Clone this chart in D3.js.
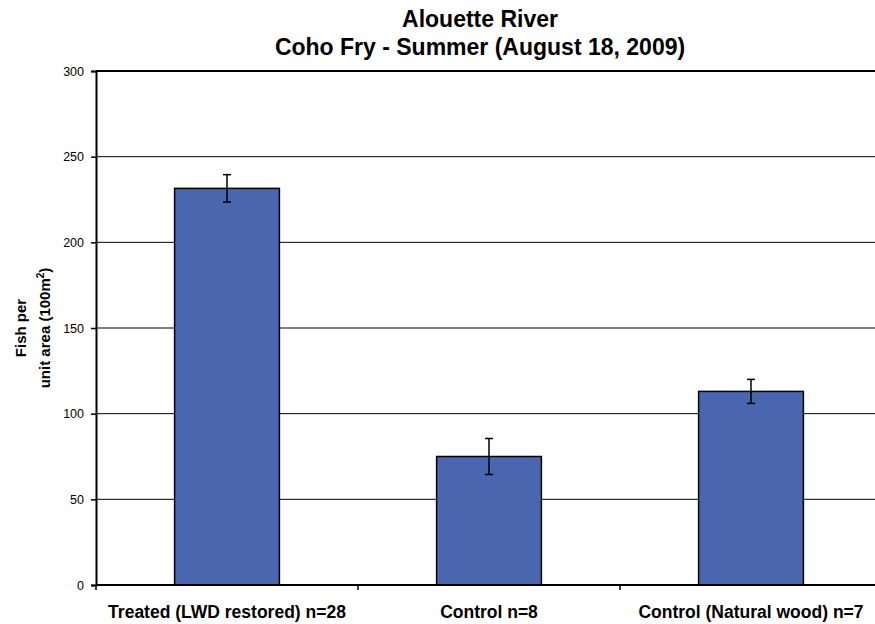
<!DOCTYPE html>
<html>
<head>
<meta charset="utf-8">
<script src="https://cdn.jsdelivr.net/npm/d3@7"></script>
<style>
  body { margin: 0; background: #fff; }
  text { font-family: "Liberation Sans", Arial, sans-serif; }
</style>
</head>
<body>
<div class="vis-barchart"></div>
<script>
// data
const categories = ["Treated (LWD restored) n=28", "Control n=8", "Control (Natural wood) n=7"];
const values = [231.5, 75, 113];
const errors = [8, 10.5, 7];
const yTicks = [0, 50, 100, 150, 200, 250, 300];

const width = 875;
const height = 624;
const margin = { top: 71, right: -7, bottom: 39, left: 96 };

const svg = d3.select('.vis-barchart').append('svg')
    .attr('width', width)
    .attr('height', height);

const x = d3.scaleBand()
    .domain(categories)
    .range([margin.left, width - margin.right])
    .paddingInner(0.6)
    .paddingOuter(0.3);

const y = d3.scaleLinear()
    .domain([0, 300])
    .range([height - margin.bottom, margin.top]);

// title
svg.append('text')
    .attr('x', 480).attr('y', 27)
    .attr('text-anchor', 'middle')
    .style('font-size', '23px').style('font-weight', 'bold')
    .text('Alouette River');
svg.append('text')
    .attr('x', 480).attr('y', 55)
    .attr('text-anchor', 'middle')
    .style('font-size', '23px').style('font-weight', 'bold')
    .text('Coho Fry - Summer (August 18, 2009)');

// gridlines
svg.append('g')
    .selectAll('line')
    .data(yTicks.filter(d => d > 0))
    .join('line')
    .attr('x1', margin.left).attr('x2', width - margin.right)
    .attr('y1', d => y(d)).attr('y2', d => y(d))
    .attr('stroke', '#000')
    .attr('stroke-width', d => d === 300 ? 2 : 1);

// bars
svg.append('g')
    .selectAll('rect')
    .data(values)
    .join('rect')
    .attr('x', (d, i) => x(categories[i]))
    .attr('width', x.bandwidth())
    .attr('y', d => y(d))
    .attr('height', d => y(0) - y(d))
    .attr('fill', '#4a66ae')
    .attr('stroke', '#000')
    .attr('stroke-width', 1.5);

// error bars
const err = svg.append('g').attr('stroke', '#000').attr('stroke-width', 1.5);
values.forEach((v, i) => {
    const cx = x(categories[i]) + x.bandwidth() / 2;
    err.append('line').attr('x1', cx).attr('x2', cx)
        .attr('y1', y(v + errors[i])).attr('y2', y(v - errors[i]));
    err.append('line').attr('x1', cx - 4).attr('x2', cx + 4)
        .attr('y1', y(v + errors[i])).attr('y2', y(v + errors[i]));
    err.append('line').attr('x1', cx - 4).attr('x2', cx + 4)
        .attr('y1', y(v - errors[i])).attr('y2', y(v - errors[i]));
});

// y axis
const yAxis = svg.append('g')
    .attr('transform', 'translate(' + margin.left + ',0)')
    .call(d3.axisLeft(y).tickValues(yTicks).tickSize(5).tickPadding(7));
yAxis.select('.domain').attr('stroke-width', 2);
yAxis.selectAll('.tick line').attr('stroke-width', 1.5);
yAxis.selectAll('text').style('font-size', '12.5px')
    .style('font-family', '"Liberation Sans", Arial, sans-serif');

// x axis: ticks at band boundaries
const xAxis = svg.append('g')
    .attr('transform', 'translate(0,' + y(0) + ')');
xAxis.append('line')
    .attr('x1', margin.left).attr('x2', width)
    .attr('stroke', '#000').attr('stroke-width', 2);
const step = x.step();
const bounds = categories.map((c, i) => x(c) + x.bandwidth() / 2 - step / 2).concat([x(categories[2]) + x.bandwidth() / 2 + step / 2]);
xAxis.selectAll('line.tk')
    .data(bounds)
    .join('line')
    .attr('class', 'tk')
    .attr('x1', d => d).attr('x2', d => d)
    .attr('y1', 0).attr('y2', 5)
    .attr('stroke', '#000').attr('stroke-width', 1.5);
xAxis.selectAll('text')
    .data(categories)
    .join('text')
    .attr('x', d => x(d) + x.bandwidth() / 2)
    .attr('y', 33)
    .attr('text-anchor', 'middle')
    .style('font-size', '17.5px').style('font-weight', 'bold')
    .text(d => d);

// y label
const yl = svg.append('text')
    .attr('transform', 'translate(0,328) rotate(-90)')
    .attr('text-anchor', 'middle')
    .style('font-size', '15px').style('font-weight', 'bold');
yl.append('tspan').attr('x', 0).attr('y', 26).text('Fish per');
const t2 = yl.append('tspan').attr('x', 0).attr('y', 50);
t2.append('tspan').text('unit area (100m');
t2.append('tspan').attr('dy', -6).style('font-size', '10px').text('2');
t2.append('tspan').attr('dy', 6).text(')');
</script>
</body>
</html>
